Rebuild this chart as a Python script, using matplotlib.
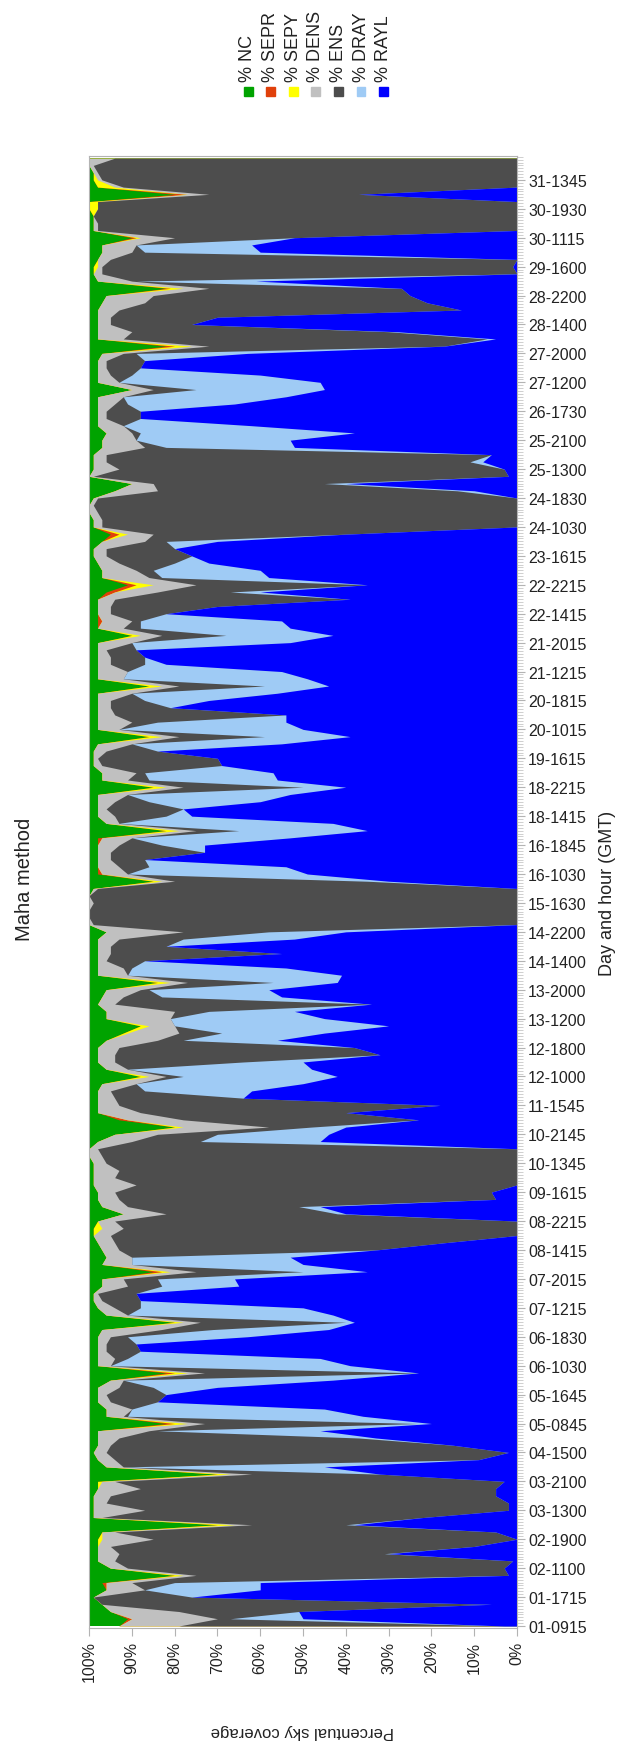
import numpy as np
import matplotlib
matplotlib.use('Agg')
import matplotlib.pyplot as plt
from matplotlib.ticker import MultipleLocator, FuncFormatter
from matplotlib.patches import Rectangle

plt.rcParams['font.family'] = ['Liberation Sans', 'DejaVu Sans']

# tick labels of the time axis, one every 4 samples
labels = ['01-0915', '01-1715', '02-1100', '02-1900', '03-1300', '03-2100', '04-1500',
          '05-0845', '05-1645', '06-1030', '06-1830', '07-1215', '07-2015', '08-1415',
          '08-2215', '09-1615', '10-1345', '10-2145', '11-1545', '12-1000', '12-1800',
          '13-1200', '13-2000', '14-1400', '14-2200', '15-1630', '16-1030', '16-1845',
          '18-1415', '18-2215', '19-1615', '20-1015', '20-1815', '21-1215', '21-2015',
          '22-1415', '22-2215', '23-1615', '24-1030', '24-1830', '25-1300', '25-2100',
          '26-1730', '27-1200', '27-2000', '28-1400', '28-2200', '29-1600', '30-1115',
          '30-1930', '31-1345']

# percent of sky (samples from first to last record)
nc = [7, 9, 5, 3, 1, 4, 3, 20, 5, 2,
      2, 2, 2, 3, 30, 1, 1, 1, 1, 2,
      2, 30, 4, 2, 1, 2, 2, 2, 18, 4,
      4, 2, 2, 2, 5, 18, 2, 2, 2, 2,
      2, 3, 20, 4, 2, 1, 1, 3, 3, 15,
      3, 4, 3, 2, 1, 1, 2, 8, 3, 2,
      2, 1, 1, 1, 1, 0, 0, 2, 6, 20,
      7, 2, 2, 2, 2, 3, 12, 4, 2, 2,
      2, 4, 8, 12, 4, 4, 2, 3, 4, 16,
      2, 2, 2, 2, 2, 2, 4, 0, 0, 0,
      0, 0, 1, 15, 2, 2, 2, 2, 2, 2,
      18, 4, 2, 2, 2, 2, 15, 3, 3, 1,
      1, 1, 2, 14, 2, 2, 2, 2, 2, 2,
      14, 2, 2, 2, 2, 2, 2, 10, 2, 2,
      2, 2, 2, 4, 9, 3, 3, 2, 1, 1,
      3, 5, 1, 1, 0, 0, 1, 6, 10, 0,
      1, 1, 1, 3, 3, 4, 2, 2, 2, 2,
      2, 10, 2, 2, 2, 2, 3, 18, 2, 2,
      2, 2, 2, 3, 4, 18, 2, 1, 1, 2,
      3, 3, 10, 1, 1, 1, 0, 0, 20, 2,
      1, 1, 0, 0]
sepr = [0, 1, 0, 0, 0, 0, 1, 0, 0, 0,
        0, 0, 0, 0, 0, 0, 0, 0, 0, 0,
        0, 0, 0, 0, 0, 0, 0, 0, 2, 0,
        0, 0, 0, 0, 0, 2, 0, 0, 0, 0,
        0, 0, 0, 0, 0, 0, 0, 0, 0, 2,
        0, 0, 0, 0, 0, 0, 0, 0, 0, 0,
        0, 0, 0, 0, 0, 0, 0, 0, 0, 0,
        2, 0, 0, 0, 0, 0, 0, 0, 0, 0,
        0, 0, 0, 0, 0, 0, 0, 0, 0, 0,
        0, 0, 0, 0, 0, 0, 0, 0, 0, 0,
        0, 0, 0, 0, 1, 0, 0, 0, 0, 1,
        0, 0, 0, 0, 0, 0, 0, 0, 0, 0,
        0, 0, 0, 0, 0, 0, 0, 0, 0, 0,
        0, 0, 0, 0, 0, 0, 0, 0, 0, 1,
        0, 0, 0, 2, 2, 0, 0, 0, 0, 0,
        0, 2, 0, 0, 0, 0, 0, 0, 0, 0,
        0, 0, 0, 0, 0, 0, 0, 0, 0, 0,
        0, 0, 0, 0, 0, 0, 0, 2, 0, 0,
        0, 0, 0, 0, 0, 1, 0, 0, 0, 0,
        0, 0, 1, 0, 0, 0, 0, 0, 3, 0,
        0, 0, 0, 0]
sepy = [0, 0, 0, 0, 0, 0, 0, 2, 0, 0,
        0, 0, 1, 0, 4, 0, 0, 0, 0, 0,
        1, 3, 0, 0, 0, 0, 0, 0, 3, 0,
        0, 0, 0, 0, 0, 3, 0, 0, 0, 0,
        0, 0, 2, 0, 0, 0, 0, 0, 0, 2,
        0, 0, 0, 0, 0, 2, 0, 0, 0, 0,
        0, 0, 0, 0, 0, 0, 0, 0, 0, 2,
        0, 0, 0, 0, 0, 0, 2, 0, 0, 0,
        0, 0, 1, 2, 0, 0, 0, 0, 0, 3,
        0, 0, 0, 0, 0, 0, 0, 0, 0, 0,
        0, 0, 0, 2, 0, 0, 0, 0, 0, 0,
        3, 0, 0, 0, 0, 0, 3, 0, 0, 0,
        0, 0, 0, 3, 0, 0, 0, 0, 0, 0,
        3, 0, 0, 0, 0, 0, 0, 2, 0, 0,
        0, 0, 0, 0, 4, 0, 0, 0, 0, 0,
        0, 2, 0, 0, 0, 0, 0, 0, 0, 0,
        0, 0, 0, 0, 0, 0, 0, 0, 0, 0,
        0, 0, 0, 0, 0, 0, 0, 4, 0, 0,
        0, 0, 0, 0, 0, 3, 0, 0, 1, 0,
        0, 0, 1, 0, 0, 0, 2, 2, 0, 4,
        1, 0, 0, 0]
dens = [14, 20, 16, 0, 0, 9, 6, 3, 4, 4,
        5, 3, 12, 3, 4, 2, 12, 3, 4, 10,
        3, 5, 4, 4, 3, 3, 5, 12, 4, 4,
        6, 3, 2, 5, 3, 4, 3, 4, 2, 2,
        3, 14, 4, 5, 4, 2, 1, 6, 5, 6,
        7, 6, 4, 4, 4, 5, 4, 10, 6, 5,
        4, 10, 5, 6, 3, 3, 2, 8, 10, 20,
        13, 10, 5, 4, 3, 8, 4, 5, 4, 4,
        5, 12, 12, 6, 15, 16, 4, 5, 8, 4,
        7, 6, 2, 3, 3, 5, 18, 1, 0, 0,
        1, 0, 1, 3, 6, 5, 3, 3, 5, 7,
        4, 3, 4, 2, 4, 7, 4, 6, 8, 2,
        1, 3, 8, 4, 5, 8, 4, 3, 3, 8,
        4, 6, 7, 3, 3, 2, 8, 5, 6, 7,
        3, 3, 4, 10, 10, 11, 8, 5, 3, 3,
        10, 6, 2, 2, 2, 1, 1, 10, 5, 1,
        6, 3, 3, 10, 8, 6, 6, 2, 2, 4,
        6, 5, 5, 3, 2, 2, 5, 4, 6, 8,
        3, 3, 5, 10, 11, 6, 8, 2, 1, 3,
        7, 8, 8, 1, 1, 0, 0, 0, 5, 2,
        1, 1, 1, 6]
ens = [76, 3, 28, 91, 23, 0, 10, 73, 88, 93,
       62, 85, 85, 89, 22, 75, 85, 94, 90, 83,
       91, 30, 0, 85, 94, 80, 56, 2, 50, 1,
       0, 11, 14, 8, 0, 50, 0, 3, 8, 7,
       4, 12, 34, 0, 6, 9, 9, 8, 8, 25,
       0, 0, 60, 77, 95, 92, 94, 40, 40, 88,
       88, 89, 94, 93, 96, 97, 98, 16, 14, 10,
       55, 48, 75, 30, 8, 0, 4, 0, 30, 62,
       55, 6, 10, 0, 0, 8, 60, 9, 2, 20,
       0, 2, 9, 40, 13, 15, 20, 99, 100, 100,
       99, 100, 98, 45, 0, 7, 8, 22, 10, 0,
       10, 0, 12, 18, 8, 0, 28, 5, 2, 28,
       28, 12, 0, 20, 0, 6, 40, 14, 8, 0,
       20, 0, 0, 8, 8, 7, 0, 15, 4, 2,
       13, 25, 55, 17, 40, 3, 4, 13, 20, 16,
       5, 45, 97, 97, 98, 99, 98, 70, 40, 97,
       90, 85, 90, 5, 0, 2, 0, 8, 8, 3,
       0, 10, 0, 5, 8, 9, 3, 55, 85, 60,
       19, 25, 80, 66, 60, 45, 1, 97, 96, 95,
       3, 0, 28, 98, 98, 99, 98, 98, 35, 92,
       97, 98, 99, 94]
dray = [0, 17, 0, 0, 0, 27, 20, 0, 0, 0,
        1, 0, 0, 0, 2, 0, 0, 0, 0, 0,
        0, 0, 47, 0, 0, 0, 4, 38, 3, 55,
        45, 0, 0, 15, 49, 0, 56, 45, 0, 0,
        28, 27, 2, 48, 38, 0, 0, 18, 18, 15,
        40, 37, 0, 0, 0, 0, 0, 2, 5, 0,
        0, 0, 0, 0, 0, 0, 0, 28, 26, 8,
        0, 0, 0, 0, 25, 39, 36, 43, 14, 0,
        0, 22, 24, 50, 36, 20, 0, 28, 28, 15,
        50, 36, 0, 0, 0, 26, 18, 0, 0, 0,
        0, 0, 0, 5, 42, 32, 0, 0, 10, 37,
        30, 50, 6, 0, 26, 38, 10, 30, 30, 0,
        0, 0, 35, 20, 43, 30, 0, 0, 15, 34,
        15, 43, 36, 5, 0, 0, 37, 25, 35, 33,
        0, 0, 0, 7, 0, 25, 25, 8, 0, 0,
        12, 0, 0, 0, 0, 0, 0, 4, 5, 0,
        0, 3, 0, 30, 36, 50, 30, 0, 0, 25,
        38, 30, 47, 30, 0, 0, 26, 0, 2, 2,
        0, 0, 0, 0, 0, 0, 28, 0, 0, 0,
        27, 27, 0, 0, 0, 0, 0, 0, 0, 0,
        0, 0, 0, 0]
rayl = [3, 50, 51, 6, 76, 60, 60, 2, 3, 1,
        30, 10, 0, 5, 38, 22, 2, 2, 5, 5,
        3, 32, 45, 9, 2, 15, 33, 46, 20, 36,
        45, 84, 82, 70, 43, 23, 39, 46, 88, 89,
        63, 44, 38, 43, 50, 88, 89, 65, 66, 35,
        50, 53, 33, 17, 0, 0, 0, 40, 46, 5,
        6, 0, 0, 0, 0, 0, 0, 46, 44, 40,
        23, 40, 18, 64, 62, 50, 42, 48, 50, 32,
        38, 56, 45, 30, 45, 52, 34, 55, 58, 42,
        41, 54, 87, 55, 82, 52, 40, 0, 0, 0,
        0, 0, 0, 30, 49, 54, 87, 73, 73, 53,
        35, 43, 76, 78, 60, 53, 40, 56, 57, 69,
        70, 84, 55, 39, 50, 54, 54, 81, 72, 56,
        44, 49, 55, 82, 87, 89, 53, 43, 53, 55,
        82, 70, 39, 60, 35, 58, 60, 72, 76, 80,
        70, 40, 0, 0, 0, 0, 0, 10, 40, 2,
        3, 8, 6, 52, 53, 38, 62, 88, 88, 66,
        54, 45, 46, 60, 88, 87, 63, 17, 5, 28,
        76, 70, 13, 21, 25, 27, 61, 0, 1, 0,
        60, 62, 52, 0, 0, 0, 0, 0, 37, 0,
        0, 0, 0, 0]

# stacked from 0% upward
series = [rayl, dray, ens, dens, sepy, sepr, nc]
names = ['% RAYL', '% DRAY', '% ENS', '% DENS', '% SEPY', '% SEPR', '% NC']
colors = ['#0000ff', '#9fcbf5', '#4d4d4d', '#c0c0c0', '#ffff00', '#e0400b', '#00a300']

data = np.array(series, dtype=float)
data = data / data.sum(axis=0) * 100
idx = np.arange(data.shape[1])
cum = np.cumsum(data, axis=0)

fig = plt.figure(figsize=(6.3, 17.49), dpi=100)
ax = fig.add_axes([89/630, 120/1749, 428/630, 1472/1749])

# draw from the top series down so no seams show
for k in range(6, -1, -1):
    ax.fill_betweenx(idx, 0, cum[k], color=colors[k], lw=0)

ax.set_xlim(100, 0)
ax.set_ylim(-0.28, 203.3)

ax.xaxis.set_major_locator(MultipleLocator(10))
ax.xaxis.set_major_formatter(FuncFormatter(lambda v, p: '%d%%' % v))
ax.tick_params(axis='x', rotation=90, length=6, color='#b3b3b3',
               labelsize=11.5, pad=3, labelcolor='#222222')

ax.yaxis.tick_right()
ax.set_yticks(np.arange(len(labels)) * 4)
ax.set_yticklabels(labels)
ax.yaxis.set_minor_locator(MultipleLocator(0.4))
ax.tick_params(axis='y', which='major', length=6, color='#b3b3b3',
               labelsize=11.5, pad=2, labelcolor='#222222')
ax.tick_params(axis='y', which='minor', length=4, color='#c8c8c8', width=0.6)

for s in ax.spines.values():
    s.set_color('#b3b3b3')

fig.text(24/630, 1 - 879/1749, 'Maha method', rotation=90, ha='center', va='center',
         fontsize=14.5, color='#222222')
fig.text(607/630, 1 - 893/1749, 'Day and hour (GMT)', rotation=90, ha='center',
         va='center', fontsize=13, color='#222222')
fig.text(0.48, 1 - 1732/1749, 'Percentual sky coverage', rotation=180,
         ha='center', va='center', fontsize=12, color='#222222')

# legend: squares with upright labels above them
order = list(range(6, -1, -1))
for n, k in enumerate(order):
    cx = 248 + 22.6*n
    fig.patches.append(Rectangle(((cx - 4.5)/630, 1 - 97/1749), 9/630, 9/1749,
                                 transform=fig.transFigure, color=colors[k]))
    fig.text(cx/630, 1 - 82/1749, names[k], rotation=90, ha='center',
             va='bottom', fontsize=13, color='#222222')

fig.savefig('out.png', dpi=100)
